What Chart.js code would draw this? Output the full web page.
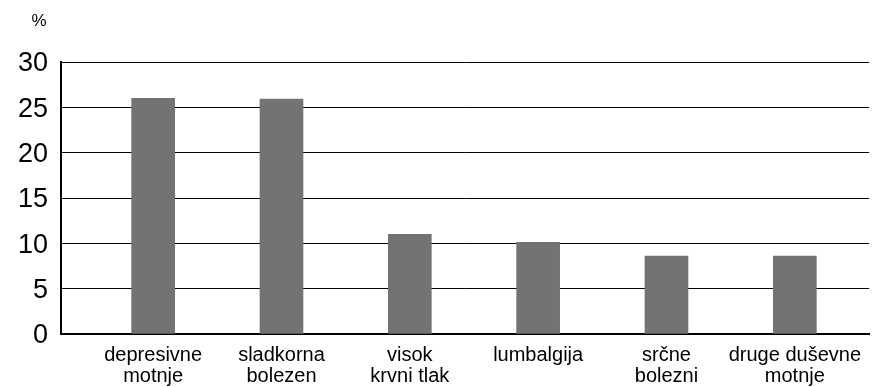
<!DOCTYPE html>
<html>
<head>
<meta charset="utf-8">
<script src="https://cdn.jsdelivr.net/npm/chart.js@4"></script>
<style>
  html, body { margin: 0; padding: 0; background: #fff; }
  #wrap { width: 872px; height: 387px; position: relative; }
</style>
</head>
<body>
<div id="wrap"><canvas id="c" width="872" height="387"></canvas></div>
<script>
// Categories (two-line labels) and their shares in percent
const categories = [
  ['depresivne', 'motnje'],
  ['sladkorna', 'bolezen'],
  ['visok', 'krvni tlak'],
  ['lumbalgija'],
  ['srčne', 'bolezni'],
  ['druge duševne', 'motnje']
];
const shares = [26.0, 25.9, 11.0, 10.1, 8.6, 8.6];
const yTicks = [0, 5, 10, 15, 20, 25, 30];
const unitLabel = '%';

const FONT = '"Liberation Sans", Arial, sans-serif';

// Unit label above the value axis
const unitPlugin = {
  id: 'unitLabel',
  afterDraw(chart) {
    const ctx = chart.ctx;
    ctx.save();
    ctx.font = '17px ' + FONT;
    ctx.fillStyle = '#000';
    ctx.textAlign = 'center';
    ctx.textBaseline = 'middle';
    ctx.fillText(unitLabel, 39, 21);
    ctx.restore();
  }
};

new Chart(document.getElementById('c'), {
  type: 'bar',
  data: {
    datasets: [{
      data: shares.map((v, i) => ({ x: i, y: v })),
      backgroundColor: '#737373',
      borderWidth: 0,
      barThickness: 43
    }]
  },
  options: {
    responsive: false,
    animation: false,
    layout: { padding: { top: 62, right: 0, left: 0, bottom: 0 } },
    plugins: { legend: { display: false }, tooltip: { enabled: false } },
    scales: {
      x: {
        type: 'linear',
        offset: false,
        bounds: 'data',
        min: -0.718,
        max: 5.579,
        afterBuildTicks(scale) {
          scale.ticks = categories.map((_, i) => ({ value: i }));
        },
        afterFit(scale) { scale.height = 53; },
        grid: { display: false, drawTicks: false },
        border: { display: true, color: '#000', width: 2 },
        ticks: {
          autoSkip: false,
          maxRotation: 0,
          padding: 11,
          color: '#000',
          font: { family: FONT, size: 20, lineHeight: 1.05 },
          callback: (v) => categories[v]
        }
      },
      y: {
        min: 0,
        max: 30,
        afterBuildTicks(scale) {
          scale.ticks = yTicks.map(v => ({ value: v }));
        },
        afterFit(scale) { scale.width = 61; },
        grid: { color: '#000', lineWidth: 1, drawTicks: false },
        border: { display: true, color: '#000', width: 2 },
        ticks: {
          padding: 13,
          labelOffset: 2,
          color: '#000',
          font: { family: FONT, size: 27 }
        }
      }
    }
  },
  plugins: [unitPlugin]
});
</script>
</body>
</html>
